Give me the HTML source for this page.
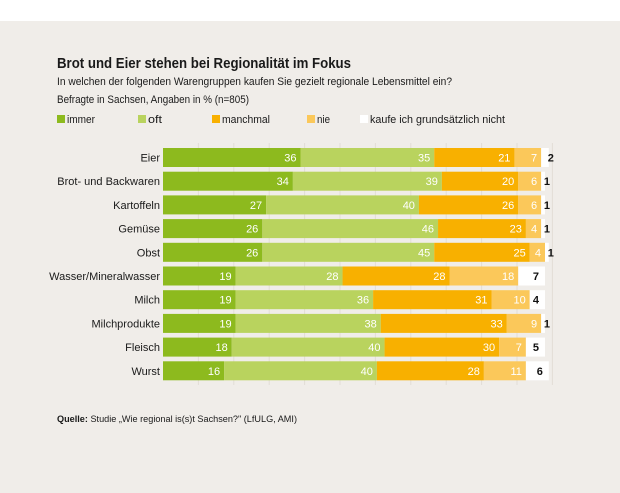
<!DOCTYPE html>
<html><head><meta charset="utf-8"><style>
body{margin:0;width:620px;height:493px;background:#fff;font-family:"Liberation Sans",sans-serif;overflow:hidden}
#panel{position:absolute;left:0;top:21px;width:620px;height:472px;background:#f0ede9}
</style></head><body>
<div id="panel"></div>
<svg id="chart" width="620" height="493" style="position:absolute;left:0;top:0">
<text x="57" y="68" font-size="15" font-weight="bold" fill="#1a1a1a" textLength="294" lengthAdjust="spacingAndGlyphs">Brot und Eier stehen bei Regionalität im Fokus</text>
<text x="57" y="85" font-size="11" fill="#1a1a1a" textLength="395" lengthAdjust="spacingAndGlyphs">In welchen der folgenden Warengruppen kaufen Sie gezielt regionale Lebensmittel ein?</text>
<text x="57" y="103" font-size="11" fill="#1a1a1a" textLength="192" lengthAdjust="spacingAndGlyphs">Befragte in Sachsen, Angaben in % (n=805)</text>
<text x="57" y="422" font-size="9" fill="#1a1a1a" textLength="240" lengthAdjust="spacingAndGlyphs"><tspan font-weight="bold">Quelle:</tspan> Studie „Wie regional is(s)t Sachsen?" (LfULG, AMI)</text>
<g id="legend"></g><g id="grid"></g><g id="bars"></g>
</svg>
<script>
const categories=["Eier","Brot- und Backwaren","Kartoffeln","Gemüse","Obst","Wasser/Mineralwasser","Milch","Milchprodukte","Fleisch","Wurst"];
const immer=[36,34,27,26,26,19,19,19,18,16];
const oft=[35,39,40,46,45,28,36,38,40,40];
const manchmal=[21,20,26,23,25,28,31,33,30,28];
const nie=[7,6,6,4,4,18,10,9,7,11];
const nicht=[2,1,1,1,1,7,4,1,5,6];
const seriesNames=["immer","oft","manchmal","nie","kaufe ich grundsätzlich nicht"];
const colors=["#8dba1e","#b9d35e","#f8b000","#fbc85a","#ffffff"];
const NS="http://www.w3.org/2000/svg";
const x0=163, pxPer=3.82, y0=148, rowH=23.7, barH=19;
const xs=v=>x0+v*pxPer;
function mk(t,a,p){const e=document.createElementNS(NS,t);for(const k in a)e.setAttribute(k,a[k]);p.appendChild(e);return e;}
const legend=document.getElementById('legend');
const lx=[57,138,212,307,360];
const lw=[28,14,48,13,135];
seriesNames.forEach((n,i)=>{
 const r=mk('rect',{x:lx[i],y:115,width:8,height:8,fill:colors[i]},legend);
 
 
 const t=mk('text',{x:lx[i]+10,y:123,'font-size':11,fill:'#1a1a1a',textLength:lw[i],lengthAdjust:'spacingAndGlyphs'},legend);t.textContent=n;
 
 
});
const grid=document.getElementById('grid');
for(let g=1;g<=11;g++){const gx=x0+g*35.4;
 const l=mk('line',{x1:gx,x2:gx,y1:143,y2:385,stroke:'#e2ddd6','stroke-width':1},grid);
 
 }
const bars=document.getElementById('bars');
const series=[immer,oft,manchmal,nie,nicht];
categories.forEach((c,i)=>{
 const y=y0+i*rowH;
 const lab=mk('text',{x:160,y:y+barH/2+4,'font-size':11,'text-anchor':'end',fill:'#1a1a1a'},bars);lab.textContent=c;
 
 
 let cum=0;
 series.forEach((s,j)=>{
  const v=s[i];const xa=xs(cum),xb=xs(cum+v);
  const r=mk('rect',{x:xa,y:y,width:xb-xa,height:barH,fill:colors[j]},bars);
  
  
  const t=mk('text',{x:xb-4,y:y+barH/2+4,'font-size':11,'text-anchor':'end',fill:j==4?'#111':'#fff','font-weight':j==4?'bold':'normal'},bars);
  if(j==4){t.setAttribute('x', v>=3? xb-6 : xb+5);}
  t.textContent=v;
  
  
  cum+=v;
 });
});
</script>
</body></html>
